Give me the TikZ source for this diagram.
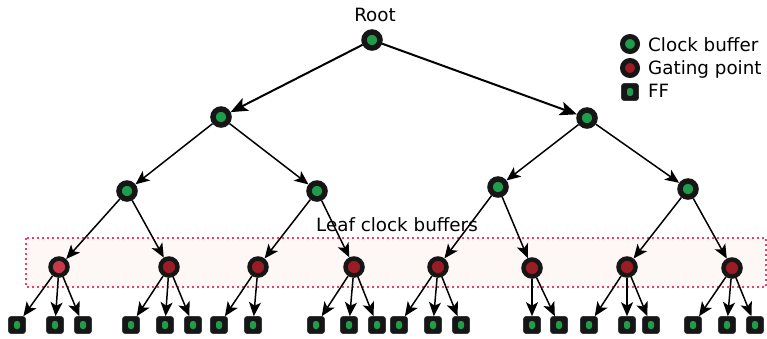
\documentclass[tikz,border=0pt]{standalone}
\usepackage{fontspec}
\setmainfont{DejaVu Sans}
\usetikzlibrary{arrows.meta}
\definecolor{cbgreen}{HTML}{1E9E4A}
\definecolor{gred}{HTML}{9B1C25}
\definecolor{gredlight}{HTML}{C8394A}
\definecolor{ringdark}{HTML}{161616}
\definecolor{boxfill}{HTML}{FDF7F5}
\definecolor{boxline}{HTML}{E8406A}
\tikzset{
  cbuf/.style={circle,fill=cbgreen,draw=ringdark,line width=5.5pt,minimum size=16pt,inner sep=0pt},
  gpt/.style={circle,fill=gred,draw=ringdark,line width=4.5pt,minimum size=17pt,inner sep=0pt},
  ffbox/.style={rectangle,rounded corners=2.5pt,fill=ringdark,draw=ringdark!85!white,line width=0.6pt,minimum size=17pt,inner sep=0pt,
    path picture={\fill[cbgreen] ([xshift=-3pt,yshift=-4pt]path picture bounding box.center) rectangle ([xshift=3pt,yshift=4pt]path picture bounding box.center);}},
  toparrow/.style={line width=2pt,-{Stealth[length=17pt,width=14pt,inset=4pt]}},
  edge/.style={line width=1.5pt,-{Stealth[length=14pt,width=12pt,inset=3.5pt]}},
  lbl/.style={font=\fontsize{18.3}{21}\selectfont,inner sep=0pt},
}
\begin{document}
\begin{tikzpicture}[x=1pt,y=-1pt]
\useasboundingbox (0,0) rectangle (767,338);
% leaf band
\path[fill=boxfill,draw=boxline,line width=1.8pt,dash pattern=on 1.8pt off 3.2pt] (26,238) rectangle (766,287);
% nodes
\node[cbuf] (r) at (372,40) {};
\node[lbl] (rl) at (375,15) {Root};
\node[cbuf] (a) at (221,117) {};
\node[cbuf] (b) at (587,118) {};
\node[cbuf] (a1) at (127,191) {};
\node[cbuf] (a2) at (317,191) {};
\node[cbuf] (b1) at (498,187) {};
\node[cbuf] (b2) at (688,189) {};
\node[gpt,fill=gredlight] (g1) at (59,267) {};
\node[gpt] (g2) at (169,267) {};
\node[gpt] (g3) at (258,267) {};
\node[gpt] (g4) at (354,267) {};
\node[gpt] (g5) at (438,267) {};
\node[gpt] (g6) at (532,268) {};
\node[gpt] (g7) at (627,267) {};
\node[gpt] (g8) at (732,268) {};
\node[lbl] (leaf) at (397,225) {Leaf clock buffers};
% FFs
\foreach \n/\x in {f1/17,f2/55,f3/83,f4/131,f5/165,f6/193,f7/219,f8/253,f9/316,f10/349,f11/377,f12/399,f13/433,f14/461,f15/532,f16/559,f17/589,f18/627,f19/651,f20/693,f21/727,f22/755}
  \node[ffbox] (\n) at (\x,325) {};
% edges
\draw[toparrow] (r) -- (a);
\draw[toparrow] (r) -- (b);
\draw[edge] (a) -- (a1);
\draw[edge] (a) -- (a2);
\draw[edge] (b) -- (b1);
\draw[edge] (b) -- (b2);
\draw[edge] (a1) -- (g1);
\draw[edge] (a1) -- (g2);
\draw[edge] (a2) -- (g3);
\draw[edge] (a2) -- (g4);
\draw[edge] (b1) -- (g5);
\draw[edge] (b1) -- (g6);
\draw[edge] (b2) -- (g7);
\draw[edge] (b2) -- (g8);
\foreach \g/\f in {g1/f1,g1/f2,g1/f3,g2/f4,g2/f5,g2/f6,g3/f7,g3/f8,g4/f9,g4/f10,g4/f11,g5/f12,g5/f13,g5/f14,g6/f15,g6/f16,g7/f17,g7/f18,g7/f19,g8/f20,g8/f21,g8/f22}
  \draw[edge] (\g) -- (\f);
% legend
\node[cbuf,line width=5pt,minimum size=15pt] (l1) at (630,44) {};
\node[gpt,line width=5pt,minimum size=15pt] (l2) at (630,68) {};
\node[ffbox] (l3) at (630,92) {};
\node[lbl,anchor=west] (t1) at (648,45) {Clock buffer};
\node[lbl,anchor=west] (t2) at (648,69) {Gating point};
\node[lbl,anchor=west] (t3) at (648,91) {FF};
\end{tikzpicture}
\end{document}
